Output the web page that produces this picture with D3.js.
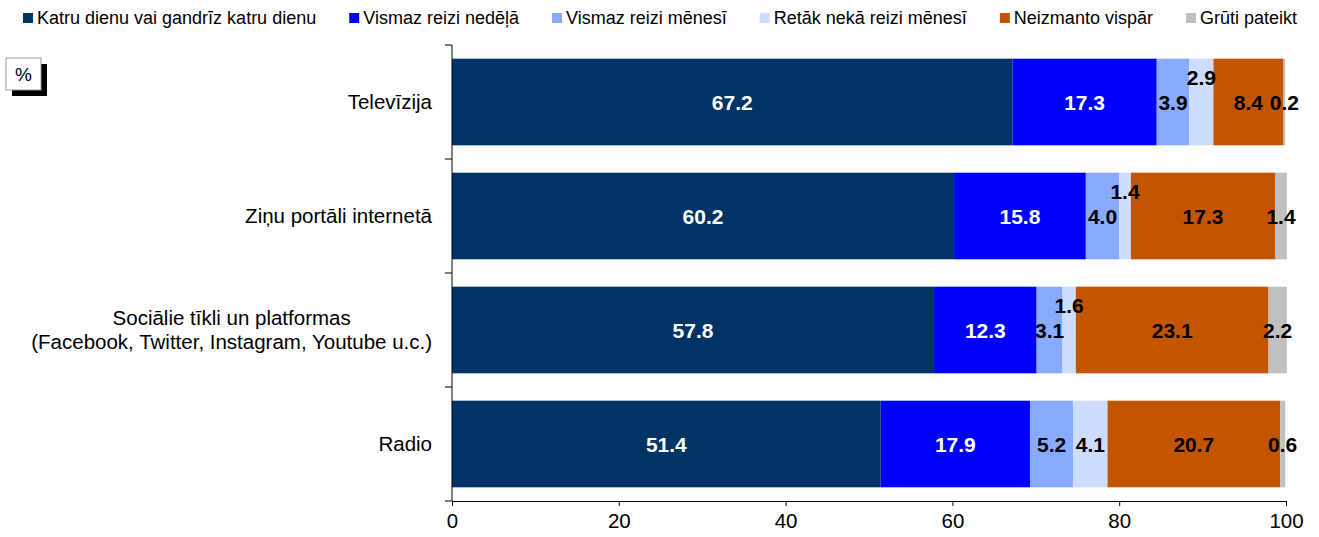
<!DOCTYPE html>
<html>
<head>
<meta charset="utf-8">
<script src="https://cdn.jsdelivr.net/npm/d3@7"></script>
<style>
  body { margin: 0; background: #fff; }
  text { font-family: "Liberation Sans", Arial, sans-serif; }
</style>
</head>
<body>
<svg id="chart" width="1319" height="537"></svg>
<script>
// data
var categories = ["Televīzija", "Ziņu portāli internetā", "Sociālie tīkli un platformas|(Facebook, Twitter, Instagram, Youtube u.c.)", "Radio"];
var seriesNames = ["Katru dienu vai gandrīz katru dienu", "Vismaz reizi nedēļā", "Vismaz reizi mēnesī", "Retāk nekā reizi mēnesī", "Neizmanto vispār", "Grūti pateikt"];
var seriesColors = ["#003366", "#0000FF", "#88AAFF", "#CCDDFF", "#C35500", "#C0C0C0"];
var labelColors = ["#fff", "#fff", "#000", "#000", "#000", "#000"];
var dailyVals = [67.2, 60.2, 57.8, 51.4];
var weeklyVals = [17.3, 15.8, 12.3, 17.9];
var monthlyVals = [3.9, 4.0, 3.1, 5.2];
var rarerVals = [2.9, 1.4, 1.6, 4.1];
var neverVals = [8.4, 17.3, 23.1, 20.7];
var hardVals = [0.2, 1.4, 2.2, 0.6];
var xTicks = [0, 20, 40, 60, 80, 100];

var allVals = [dailyVals, weeklyVals, monthlyVals, rarerVals, neverVals, hardVals];

var svg = d3.select("#chart");
var plotLeft = 452, plotTop = 45, plotW = 834, plotH = 456;

var x = d3.scaleLinear().domain([0, 100]).range([plotLeft, plotLeft + plotW]);
var y = d3.scaleBand().domain(categories).range([plotTop, plotTop + plotH]).paddingInner(0.24).paddingOuter(0.12);

// stack rows
var rows = categories.map(function(c, i) {
  var r = { cat: c };
  seriesNames.forEach(function(s, j) { r[s] = allVals[j][i]; });
  return r;
});
var stacked = d3.stack().keys(seriesNames)(rows);

var g = svg.append("g");
stacked.forEach(function(layer, j) {
  g.selectAll("rect.s" + j).data(layer).enter().append("rect")
    .attr("class", "s" + j)
    .attr("x", function(d) { return x(d[0]); })
    .attr("y", function(d) { return y(d.data.cat); })
    .attr("width", function(d) { return x(d[1]) - x(d[0]); })
    .attr("height", y.bandwidth())
    .attr("fill", seriesColors[j]);
});

// value labels
stacked.forEach(function(layer, j) {
  g.selectAll("text.l" + j).data(layer).enter().append("text")
    .attr("x", function(d) { return (x(d[0]) + x(d[1])) / 2; })
    .attr("y", function(d) {
      var v = d[1] - d[0];
      var cy = y(d.data.cat) + y.bandwidth() / 2;
      // small middle segments get pushed up so they don't collide
      if (j == 3 && v < 3) cy -= 25;
      return cy;
    })
    .attr("dy", "0.36em")
    .attr("text-anchor", "middle")
    .attr("font-size", 21)
    .attr("font-weight", "bold")
    .attr("fill", labelColors[j])
    .text(function(d) { return (d[1] - d[0]).toFixed(1); });
});

// x axis
var xAxis = d3.axisBottom(x).tickValues(xTicks).tickSize(5).tickSizeOuter(0).tickFormat(d3.format("d"));
var gx = svg.append("g").attr("transform", `translate(0,${plotTop + plotH})`).call(xAxis);
gx.select(".domain").attr("stroke", "#000");
gx.selectAll("text").attr("font-size", 20.5).attr("fill", "#000").attr("font-family", "Liberation Sans, Arial").attr("dy", "0.95em");

// y axis: line with ticks at band borders
var gy = svg.append("g");
gy.append("line").attr("x1", plotLeft).attr("x2", plotLeft).attr("y1", plotTop).attr("y2", plotTop + plotH).attr("stroke", "#000");
var step = y.step();
d3.range(categories.length + 1).forEach(function(i) {
  var yy = plotTop + i * step;
  gy.append("line").attr("x1", plotLeft - 7).attr("x2", plotLeft).attr("y1", yy).attr("y2", yy).attr("stroke", "#000");
});

// category labels (multi-line ones are centred on the widest line)
var labelRight = plotLeft - 20;
categories.forEach(function(c) {
  var lines = c.split("|");
  var cy = y(c) + y.bandwidth() / 2;
  var t = svg.append("text")
    .attr("font-size", 20.5)
    .attr("fill", "#000");
  var spans = lines.map(function(ln, k) {
    return t.append("tspan")
      .attr("y", cy + (k - (lines.length - 1) / 2) * 24)
      .attr("dy", "0.36em")
      .text(ln);
  });
  if (lines.length == 1) {
    t.attr("text-anchor", "end");
    spans[0].attr("x", labelRight);
  } else {
    var maxW = d3.max(spans, function(s) { return s.node().getComputedTextLength(); });
    t.attr("text-anchor", "middle");
    spans.forEach(function(s) { s.attr("x", labelRight - maxW / 2); });
  }
});

// legend, spread from x=23 to x=1297
var lg = svg.append("g");
var items = seriesNames.map(function(s, j) {
  var it = lg.append("g");
  it.append("rect").attr("x", 0).attr("y", 13).attr("width", 10).attr("height", 10).attr("fill", seriesColors[j]);
  var t = it.append("text").attr("x", 14).attr("y", 18).attr("dy", "0.36em")
    .attr("font-size", 18).attr("fill", "#000").text(s);
  return { g: it, w: 14 + t.node().getComputedTextLength() };
});
var totalW = d3.sum(items, function(d) { return d.w; });
var gap = (1297 - 23 - totalW) / (items.length - 1);
var lx = 23;
items.forEach(function(it) {
  it.g.attr("transform", `translate(${lx},0)`);
  lx += it.w + gap;
});

// % box
svg.append("rect").attr("x", 12).attr("y", 64).attr("width", 35).attr("height", 32).attr("fill", "#000");
svg.append("rect").attr("x", 6).attr("y", 58).attr("width", 35).attr("height", 32).attr("fill", "#fff").attr("stroke", "#999");
svg.append("text").attr("x", 23.5).attr("y", 74).attr("dy", "0.36em").attr("text-anchor", "middle")
  .attr("font-size", 19).text("%");
</script>
</body>
</html>
